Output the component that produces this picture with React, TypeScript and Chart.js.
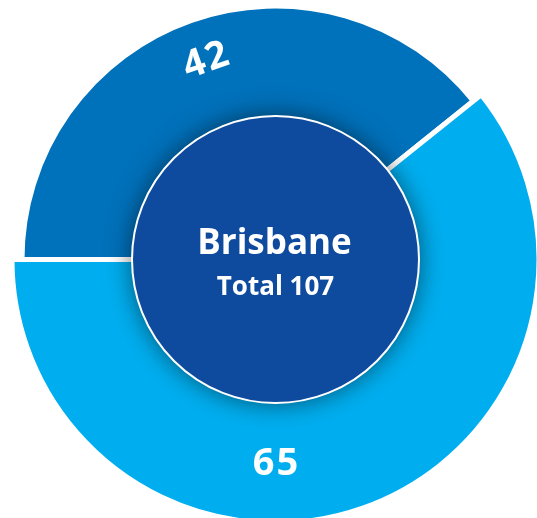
import { useEffect, useRef } from "react";
import { Chart, registerables } from "chart.js";

Chart.register(...registerables);

// ---- data ----
const categories = ["Segment A", "Segment B"];
const values = [42, 65];
const cityName = "Brisbane";
const totalPrefix = "Total";

// ---- style ----
const segmentColors = ["#0071bb", "#00aeef"];
const centerColor = "#0e4a9e";
const FONT = "'Open Sans', 'Noto Sans', sans-serif";

export default function App() {
  const ref = useRef<HTMLCanvasElement | null>(null);

  useEffect(() => {
    if (!ref.current) return;
    const total = values.reduce((a, b) => a + b, 0);

    const decor = {
      id: "decor",
      beforeDatasetsDraw(chart: any) {
        const meta = chart.getDatasetMeta(0);
        // the first segment sits slightly inside the second one
        const shrink = [10, 0];
        meta.data.forEach((arc: any, i: number) => {
          arc.outerRadius = arc.outerRadius - shrink[i];
        });
      },
      afterDatasetsDraw(chart: any) {
        const ctx: CanvasRenderingContext2D = chart.ctx;
        const meta = chart.getDatasetMeta(0);
        const first = meta.data[0];
        const cx = first.x;
        const cy = first.y;
        const R = 143.5;

        // center disc with shadow
        ctx.save();
        ctx.shadowColor = "rgba(0,0,0,0.55)";
        ctx.shadowBlur = 26;
        ctx.beginPath();
        ctx.arc(cx, cy, R, 0, Math.PI * 2);
        ctx.fillStyle = centerColor;
        ctx.fill();
        ctx.restore();

        ctx.save();
        ctx.beginPath();
        ctx.arc(cx, cy, R, 0, Math.PI * 2);
        ctx.lineWidth = 2;
        ctx.strokeStyle = "#ffffff";
        ctx.stroke();

        ctx.fillStyle = "#ffffff";
        ctx.textAlign = "center";
        ctx.textBaseline = "alphabetic";
        ctx.font = `bold 35px ${FONT}`;
        ctx.fillText(cityName, cx - 1, cy - 6);
        ctx.font = `bold 26px ${FONT}`;
        ctx.fillText(`${totalPrefix} ${total}`, cx, cy + 35);
        ctx.restore();

        // value labels
        const labelRadius = [213, 202];
        const fixedAngle: (number | null)[] = [null, Math.PI / 2];
        const rotateWithArc = [true, false];
        const size = 38;
        meta.data.forEach((arc: any, i: number) => {
          const mid = fixedAngle[i] ?? (arc.startAngle + arc.endAngle) / 2;
          const x = arc.x + Math.cos(mid) * labelRadius[i];
          const y = arc.y + Math.sin(mid) * labelRadius[i];
          ctx.save();
          ctx.translate(x, y);
          if (rotateWithArc[i]) ctx.rotate(mid + Math.PI / 2);
          ctx.fillStyle = "#ffffff";
          ctx.font = `bold ${size}px ${FONT}`;
          ctx.textAlign = "center";
          ctx.textBaseline = "alphabetic";
          (ctx as any).letterSpacing = "2px";
          ctx.fillText(String(values[i]), 1, size * 0.36);
          ctx.restore();
        });
      },
    };

    const chart = new Chart(ref.current, {
      type: "doughnut",
      data: {
        labels: categories,
        datasets: [
          {
            data: values,
            backgroundColor: segmentColors,
            borderColor: "#ffffff",
            borderWidth: 5,
            hoverOffset: 0,
            radius: 263.5,
            cutout: 130,
          } as any,
        ],
      },
      options: {
        responsive: false,
        animation: false,
        rotation: -90,
        layout: { padding: { left: 14, top: 1, right: 0, bottom: 0 } },
        plugins: {
          legend: { display: false },
          tooltip: { enabled: false },
        },
        events: [],
      },
      plugins: [decor],
    });

    return () => chart.destroy();
  }, []);

  return (
    <div style={{ position: "fixed", left: 0, top: 0, width: 537, height: 518, background: "#ffffff" }}>
      <canvas ref={ref} width={537} height={518} style={{ display: "block" }} />
    </div>
  );
}
